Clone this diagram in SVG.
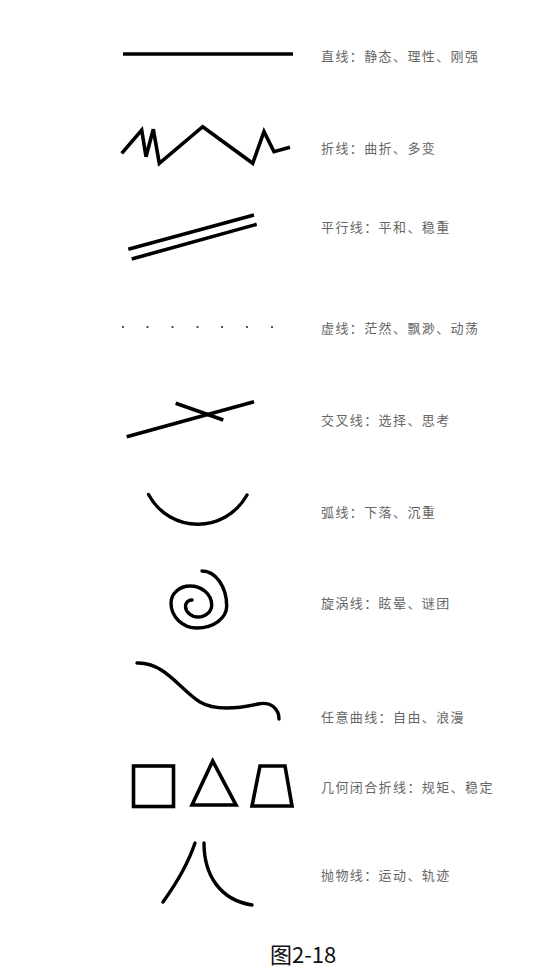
<svg xmlns="http://www.w3.org/2000/svg" width="555" height="977" viewBox="0 0 555 977">
<style>
.s{fill:none;stroke:#000;stroke-width:3.6;stroke-linecap:butt;stroke-linejoin:miter}
.r{fill:none;stroke:#000;stroke-width:3.4;stroke-linecap:round;stroke-linejoin:round}
.t{font-family:"Noto Sans CJK SC","Noto Sans",sans-serif;font-size:13px;fill:#666;letter-spacing:1.4px}
.d{fill:#555}
</style>
<rect width="555" height="977" fill="#fff"/>
<g id="straight">
<line class="s" x1="123" y1="54" x2="293" y2="54"/>
<text class="t" x="321" y="60.5">直线：静态、理性、刚强</text>
</g>
<g id="zigzag">
<polyline class="s" points="121.7,153.3 141.7,130 146,156.7 153.3,129.3 159.3,163.3 202.7,126.7 252.7,163.3 264,131.7 274,151.7 290,147.3"/>
<text class="t" x="321" y="152.5">折线：曲折、多变</text>
</g>
<g id="parallel">
<line class="s" x1="128.3" y1="249.3" x2="254" y2="215"/>
<line class="s" x1="131.7" y1="259" x2="256.7" y2="224.3"/>
<text class="t" x="321" y="231.7">平行线：平和、稳重</text>
</g>
<g id="dotted">
<rect class="d" x="122" y="326" width="2" height="2"/>
<rect class="d" x="146.5" y="326" width="2" height="2"/>
<rect class="d" x="171.5" y="326" width="2" height="2"/>
<rect class="d" x="196.5" y="326" width="2" height="2"/>
<rect class="d" x="221" y="326" width="2" height="2"/>
<rect class="d" x="246" y="326" width="2" height="2"/>
<rect class="d" x="271" y="326" width="2" height="2"/>
<text class="t" x="321" y="332.7">虚线：茫然、飘渺、动荡</text>
</g>
<g id="cross">
<line class="s" x1="126.7" y1="436.7" x2="254" y2="401.7"/>
<line class="s" x1="175.7" y1="403.3" x2="223.3" y2="420"/>
<text class="t" x="321" y="425">交叉线：选择、思考</text>
</g>
<g id="arc">
<path class="r" d="M148.5,494.5 C170,534 225,534 247,495"/>
<text class="t" x="321" y="516.7">弧线：下落、沉重</text>
</g>
<g id="spiral">
<path class="r" d="M202,571 A24.7,35 0 0 1 226.7,606 A29.7,22 0 0 1 197,628 A26,25 0 0 1 171,603 A19,17 0 0 1 190,586 A21.7,19 0 0 1 211.7,605 A13.7,12 0 0 1 198,617 A12.5,11 0 0 1 185.5,606 A6.5,6 0 0 1 192,600"/>
<text class="t" x="321" y="608.3">旋涡线：眩晕、谜团</text>
</g>
<g id="freecurve">
<path class="r" d="M137,663 C165,662 180,690 200,702 C215,711 240,708 258,704 C272,701 279,710 279,719"/>
<text class="t" x="321" y="722.3">任意曲线：自由、浪漫</text>
</g>
<g id="closed">
<rect class="s" x="133.5" y="766" width="40" height="40.5"/>
<polygon class="s" points="212.7,761 192,805 236,805"/>
<polygon class="s" points="260,766 285,766 292,806 252,806"/>
<text class="t" x="321" y="791.7">几何闭合折线：规矩、稳定</text>
</g>
<g id="parabola">
<path class="r" d="M195,843 Q186,870 163,902"/>
<path class="r" d="M204,843 C204,875 220,900 252,905"/>
<text class="t" x="321" y="880">抛物线：运动、轨迹</text>
</g>
<g id="caption">
<text x="270" y="963" style="font-family:'Noto Sans CJK SC','Noto Sans',sans-serif;font-size:22px;fill:#111">图2-18</text>
</g>
</svg>
